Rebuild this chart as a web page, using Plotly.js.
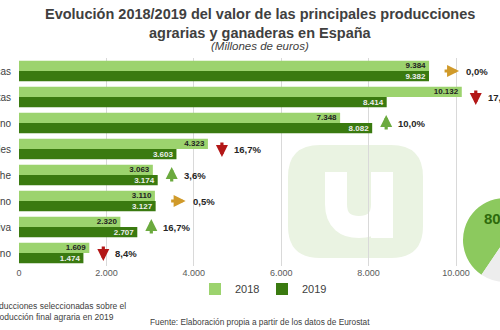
<!DOCTYPE html>
<html>
<head>
<meta charset="utf-8">
<script src="https://cdn.plot.ly/plotly-3.0.1.min.js"></script>
<style>
html,body{margin:0;padding:0;overflow:hidden;background:#fff;width:500px;height:330px;}
#chart{position:absolute;left:-80px;top:0;width:640px;height:330px;}
</style>
</head>
<body>
<div id="chart"></div>
<script>
// ---- data ----
const categories = ["Hortalizas frescas","Frutas","Porcino","Cereales","Leche","Bovino","Aceite de oliva","Vino"];
const values2018 = [9384,10132,7348,4323,3063,3110,2320,1609];
const values2019 = [9382,8414,8082,3603,3174,3127,2707,1474];
const changeLabels = ["0,0%","17,0%","10,0%","16,7%","3,6%","0,5%","16,7%","8,4%"];
const trends = ["flat","down","up","down","up","flat","up","down"];
const xTicks = [0,2000,4000,6000,8000,10000];
const shareLabels = ["Producciones seleccionadas","Resto"];
const shareValues = [80,20];

// ---- geometry helpers (page pixels -> plot-area fractions) ----
const OFF = 80, W = 640, H = 330;
const M = {l:99, r:0, t:58, b:30};
const PW = W - M.l - M.r, PH = H - M.t - M.b;
const PLOT_BOTTOM = H - M.b;
const fx = p => (p + OFF - M.l) / PW;
const fy = p => (PLOT_BOTTOM - p) / PH;

const light = "#9CD36E", dark = "#3A7A10";
const colUp = "#6BAA3E", colDown = "#B31717", colFlat = "#D09A2A";
const FONT = "Liberation Sans";

const traces = [
  {type:"bar", orientation:"h", name:"2018", y:categories, x:values2018,
   marker:{color:light}, texttemplate:"%{x:,}", textposition:"inside", insidetextanchor:"end", constraintext:"none",
   textfont:{size:8, color:"#222", family:FONT, weight:"bold"}, hoverinfo:"skip"},
  {type:"bar", orientation:"h", name:"2019", y:categories, x:values2019,
   marker:{color:dark}, texttemplate:"%{x:,}", textposition:"inside", insidetextanchor:"end", constraintext:"none",
   textfont:{size:8, color:"#eee", family:FONT, weight:"bold"}, hoverinfo:"skip"},
  {type:"pie", labels:shareLabels, values:shareValues, sort:false, direction:"clockwise",
   rotation:-146, showlegend:false, hoverinfo:"skip",
   marker:{colors:["#8CC95E","#EDEDED"], line:{width:0}},
   textinfo:"none",
   domain:{x:[fx(463), fx(547)], y:[fy(282), fy(198)]}}
];

const annotations = [];
// titles
annotations.push({xref:"paper", yref:"paper", x:fx(260), y:fy(14), text:"<b>Evolución 2018/2019 del valor de las principales producciones</b>",
  showarrow:false, font:{size:14.5, color:"#404040", family:FONT}, xanchor:"center", yanchor:"middle"});
annotations.push({xref:"paper", yref:"paper", x:fx(260), y:fy(33), text:"<b>agrarias y ganaderas en España</b>",
  showarrow:false, font:{size:14.5, color:"#404040", family:FONT}, xanchor:"center", yanchor:"middle"});
annotations.push({xref:"paper", yref:"paper", x:fx(260), y:fy(46), text:"<i>(Millones de euros)</i>",
  showarrow:false, font:{size:11.5, color:"#404040", family:FONT}, xanchor:"center", yanchor:"middle"});
// notes
annotations.push({xref:"paper", yref:"paper", x:fx(33), y:fy(311), text:"Peso de las producciones seleccionadas sobre el<br>total de la producción final agraria en 2019",
  showarrow:false, font:{size:8.5, color:"#404040", family:FONT}, xanchor:"center", yanchor:"middle", align:"center"});
annotations.push({xref:"paper", yref:"paper", x:fx(260), y:fy(322), text:"Fuente: Elaboración propia a partir de los datos de Eurostat",
  showarrow:false, font:{size:8.3, color:"#404040", family:FONT}, xanchor:"center", yanchor:"middle"});
// pie share label
annotations.push({xref:"paper", yref:"paper", x:fx(482), y:fy(218), text:"<b>"+shareValues[0]+"%</b>",
  showarrow:false, font:{size:15, color:"#2E6B0C", family:FONT}, xanchor:"left", yanchor:"middle"});

// trend arrows and percentages
categories.forEach((c,i)=>{
  const m = Math.max(values2018[i], values2019[i]);
  const t = trends[i];
  if(t === "flat"){
    annotations.push({x:m, y:c, xref:"x", yref:"y", text:"", showarrow:true, xshift:30, ax:-16, ay:0,
      arrowcolor:colFlat, arrowwidth:3.2, arrowhead:2, arrowsize:0.75});
    annotations.push({x:m, y:c, xref:"x", yref:"y", text:"<b>"+changeLabels[i]+"</b>", showarrow:false, xshift:35,
      xanchor:"left", font:{size:9.5, color:"#262626", family:FONT}});
  } else {
    const up = t === "up";
    annotations.push({x:m, y:c, xref:"x", yref:"y", text:"", showarrow:true, xshift:14, yshift: up?8:-8, ax:0, ay: up?16:-16,
      arrowcolor: up?colUp:colDown, arrowwidth:3.2, arrowhead:2, arrowsize:0.75});
    annotations.push({x:m, y:c, xref:"x", yref:"y", text:"<b>"+changeLabels[i]+"</b>", showarrow:false, xshift:24,
      xanchor:"left", font:{size:9.5, color:"#262626", family:FONT}});
  }
});

// watermark rounded square and "u" letter
const P=(x,y)=>fx(x)+","+fy(y);
function roundRect(x0,y0,x1,y1,r){
  return "M"+P(x0+r,y0)+" L"+P(x1-r,y0)+" Q"+P(x1,y0)+" "+P(x1,y0+r)+
    " L"+P(x1,y1-r)+" Q"+P(x1,y1)+" "+P(x1-r,y1)+" L"+P(x0+r,y1)+" Q"+P(x0,y1)+" "+P(x0,y1-r)+
    " L"+P(x0,y0+r)+" Q"+P(x0,y0)+" "+P(x0+r,y0)+" Z";
}
const uPath = "M"+P(336,172)+" L"+P(336,204)+" C"+P(336,221)+" "+P(346,227)+" "+P(359,227)+
  " C"+P(372,227)+" "+P(382,221)+" "+P(382,204)+" M"+P(382,172)+" L"+P(382,238);
const shapes = [
  {type:"path", xref:"paper", yref:"paper", path:roundRect(288,145,423,258,32), fillcolor:"#EAF3E2", line:{width:0}, layer:"below"},
  {type:"path", xref:"paper", yref:"paper", path:uPath, line:{color:"#ffffff", width:22}, layer:"below"}
];

const layout = {
  width:W, height:H, margin:M, paper_bgcolor:"rgba(0,0,0,0)", plot_bgcolor:"rgba(0,0,0,0)",
  separators:",.",
  barmode:"group", bargap:0.22, bargroupgap:0,
  font:{family:FONT, color:"#404040"},
  xaxis:{domain:[0, fx(456)+(fx(456)-fx(19))*0.1], range:[0,11000], tickvals:xTicks, tickformat:",",
    showgrid:true, gridcolor:"#D9D9D9", gridwidth:1, zeroline:false, showline:false,
    tickfont:{size:9, color:"#595959"}, ticks:"", fixedrange:true},
  yaxis:{domain:[fy(266), 1], autorange:"reversed", showgrid:false, zeroline:false, showline:false,
    ticks:"outside", ticklen:5, tickcolor:"rgba(0,0,0,0)", tickfont:{size:10, color:"#404040"}, fixedrange:true},
  legend:{orientation:"h", x:fx(262), y:fy(289), xanchor:"center", yanchor:"middle",
    font:{size:11, color:"#404040"}, itemwidth:30, entrywidth:22, entrywidthmode:"pixels", traceorder:"normal"},
  annotations, shapes, showlegend:true
};
Plotly.newPlot("chart", traces, layout, {staticPlot:true, displayModeBar:false});
</script>
</body>
</html>
